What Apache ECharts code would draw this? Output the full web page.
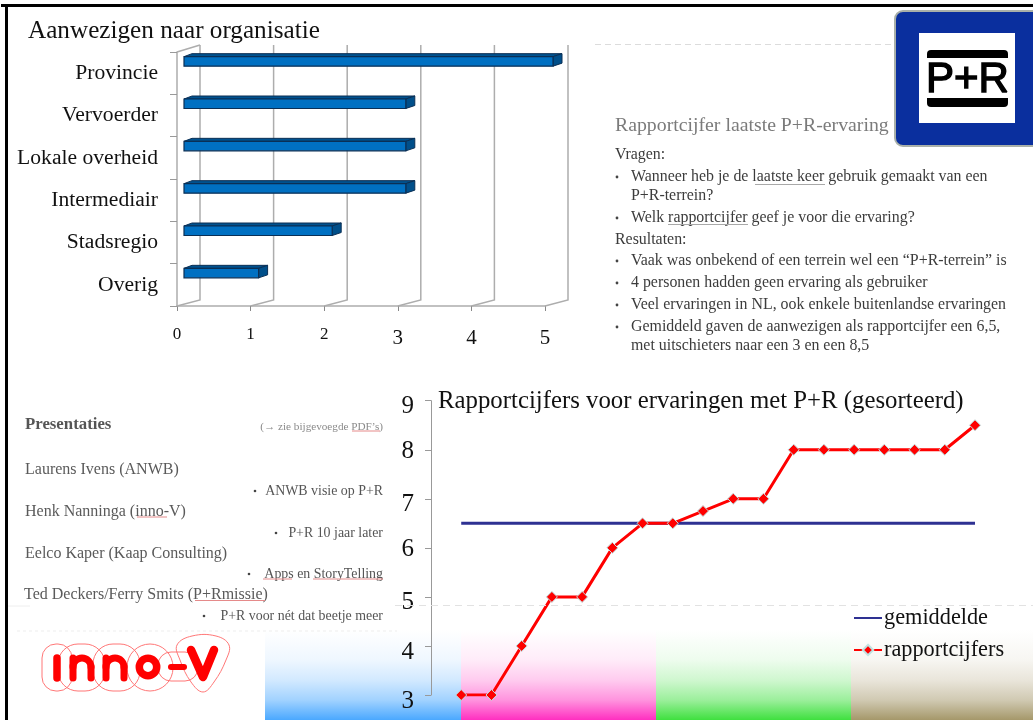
<!DOCTYPE html>
<html>
<head>
<meta charset="utf-8">
<style>html,body{margin:0;padding:0;background:#fff}#chart{width:1033px;height:720px}</style>
<script src="https://cdn.jsdelivr.net/npm/echarts@6/dist/echarts.min.js"></script>
</head>
<body>
<div id="chart"></div>
<script>
const serif = '"Liberation Serif", serif';

// bar chart
const organisaties = ['Provincie', 'Vervoerder', 'Lokale overheid', 'Intermediair', 'Stadsregio', 'Overig'];
const aanwezigen = [5, 3, 3, 3, 2, 1];
const wallTicks = [0, 1, 2, 3, 4, 5];

// line chart
const rapportcijfers = [3, 3, 4, 5, 5, 6, 6.5, 6.5, 6.75, 7, 7, 8, 8, 8, 8, 8, 8, 8.5];
const gemiddelde = [6.5, 6.5, 6.5, 6.5, 6.5, 6.5, 6.5, 6.5, 6.5, 6.5, 6.5, 6.5, 6.5, 6.5, 6.5, 6.5, 6.5, 6.5];

// slide texts
const blockTitle = 'Rapportcijfer laatste P+R-ervaring';
const blockLines = [
    'Vragen:',
    'Wanneer heb je de laatste keer gebruik gemaakt van een',
    'P+R-terrein?',
    'Welk rapportcijfer geef je voor die ervaring?',
    'Resultaten:',
    'Vaak was onbekend of een terrein wel een \u201cP+R-terrein\u201d is',
    '4 personen hadden geen ervaring als gebruiker',
    'Veel ervaringen in NL, ook enkele buitenlandse ervaringen',
    'Gemiddeld gaven de aanwezigen als rapportcijfer een 6,5,',
    'met uitschieters naar een 3 en een 8,5'
];
const sprekers = ['Laurens Ivens (ANWB)', 'Henk Nanninga (inno-V)', 'Eelco Kaper (Kaap Consulting)', 'Ted Deckers/Ferry Smits (P+Rmissie)'];
const onderwerpen = ['ANWB visie op P+R', 'P+R 10 jaar later', 'Apps en StoryTelling', 'P+R voor n\u00e9t dat beetje meer'];

function text(x, y, str, size, color, extra) {
    return {
        type: 'text', x: x, y: y, z: 20,
        style: Object.assign({ text: str, font: size + 'px ' + serif, fill: color, textVerticalAlign: 'middle' }, extra || {})
    };
}
function line(x1, y1, x2, y2, color, width, dash) {
    return {
        type: 'line', z: 20, silent: true,
        shape: { x1: x1, y1: y1, x2: x2, y2: y2 },
        style: { stroke: color, lineWidth: width, lineDash: dash || null }
    };
}
function dot(x, y, r, color) {
    return { type: 'circle', z: 20, shape: { cx: x, cy: y, r: r }, style: { fill: color } };
}
function fade(x, w, color) {
    const tint = t => echarts.color.lerp(t, ['#ffffff', color]);
    return {
        type: 'rect', z: -10, silent: true,
        shape: { x: x, y: 630, width: w, height: 90 },
        style: {
            fill: new echarts.graphic.LinearGradient(0, 0, 0, 1, [
                { offset: 0, color: '#ffffff' },
                { offset: 0.33, color: tint(0.09) },
                { offset: 0.56, color: tint(0.25) },
                { offset: 0.78, color: tint(0.52) },
                { offset: 1, color: color }
            ])
        }
    };
}
function bubble(x, y, w, h, r) {
    return {
        type: 'rect', z: 21, silent: true,
        shape: { x: x, y: y, width: w, height: h, r: r },
        style: { fill: 'none', stroke: '#f77', lineWidth: 1 }
    };
}
const logoStroke = w => ({ fill: 'none', stroke: '#ff0000', lineWidth: w, lineCap: 'round', lineJoin: 'round' });
function logoStem(x, y1, y2, w) {
    return { type: 'line', z: 22, silent: true, shape: { x1: x, y1: y1, x2: x, y2: y2 }, style: logoStroke(w) };
}
function logoN(x) {
    return [
        logoStem(x, 658, 678, 7),
        logoStem(x + 18, 667, 678, 7),
        { type: 'arc', z: 22, silent: true, shape: { cx: x + 9, cy: 667, r: 9, startAngle: Math.PI, endAngle: Math.PI * 2, clockwise: true }, style: logoStroke(7) }
    ];
}

const graphics = [];
// gradient strip along the bottom
graphics.push(fade(265, 196, '#4aa8ff'), fade(461, 195, '#ff2fc0'), fade(656, 195, '#3fe03f'), fade(851, 182, '#a5986a'));
// frame
graphics.push(line(1, 5.5, 1033, 5.5, '#000', 3), line(6.5, 5, 6.5, 720, '#000', 3));
// dashed slide seams
graphics.push(
    line(595, 44.5, 894, 44.5, '#dcdcdc', 1, [6, 4]),
    line(395, 605.5, 1033, 605.5, '#e2e2e2', 1, [7, 5]),
    line(8, 606, 30, 606, '#eeeeee', 1),
    line(17, 631, 397, 631, '#eeeeee', 1, [3, 3])
);

// right text block
graphics.push(text(615, 126, blockTitle, 19.8, '#7b7b7b'));
const blockY = [155, 177, 196, 218, 240, 261, 283, 305, 327, 346];
const blockX = [615, 631, 631, 631, 615, 631, 631, 631, 631, 631];
const blockBullets = [1, 3, 5, 6, 7, 8];
blockLines.forEach((s, i) => graphics.push(text(blockX[i], blockY[i], s, 15.9, '#3c3c3c')));
blockBullets.forEach(i => graphics.push(dot(617, blockY[i], 1.4, '#444')));
graphics.push(line(755, 184.5, 825, 184.5, '#a8a8a8', 1), line(668, 224.5, 748, 224.5, '#a8a8a8', 1));

// left text block
graphics.push(text(25, 425, 'Presentaties', 16.8, '#555', { font: 'bold 16.8px ' + serif }));
graphics.push(text(383, 427, '(\u2192 zie bijgevoegde PDF\u2019s)', 11.2, '#8a8a8a', { textAlign: 'right' }));
const sprekerY = [470, 512, 554, 595];
const onderwerpY = [491, 533, 574, 616];
sprekers.forEach((s, i) => graphics.push(text(i == 3 ? 24 : 25, sprekerY[i], s, 16, '#5a5a5a')));
onderwerpen.forEach((s, i) => graphics.push(text(383, onderwerpY[i], s, 13.9, '#555', { textAlign: 'right' })));
const bulletX = [255, 276, 249, 204];
bulletX.forEach((x, i) => graphics.push(dot(x, onderwerpY[i], 1.3, '#444')));
graphics.push(
    line(352, 431, 380, 431, '#e58a8a', 1),
    line(137, 517, 167, 517, '#e58a8a', 1),
    line(263, 579, 292, 579, '#e58a8a', 1),
    line(313, 579, 383, 579, '#e58a8a', 1),
    line(195, 600.5, 265, 600.5, '#e58a8a', 1)
);

// P+R sign
graphics.push(
    { type: 'rect', z: 30, shape: { x: 895, y: 11, width: 145, height: 135, r: 8 }, style: { fill: '#0a2f9e', stroke: '#a9b0a9', lineWidth: 2 } },
    { type: 'rect', z: 31, shape: { x: 919, y: 33, width: 96, height: 90 }, style: { fill: '#fff' } },
    { type: 'rect', z: 32, shape: { x: 927, y: 50, width: 81, height: 8, r: [4, 4, 0, 0] }, style: { fill: '#000' } },
    { type: 'rect', z: 32, shape: { x: 927, y: 98, width: 81, height: 9, r: [0, 0, 4, 4] }, style: { fill: '#000' } },
    {
        type: 'text', z: 32, x: 967.5, y: 80,
        style: { text: 'P+R', font: '42px "Liberation Sans", sans-serif', fill: '#000', stroke: '#000', lineWidth: 1.4, textAlign: 'center', textVerticalAlign: 'middle' }
    }
);

// inno-V logo
graphics.push(
    bubble(42, 644, 30, 47, 14), bubble(58, 644, 47, 47, 20), bubble(93, 644, 47, 47, 20),
    bubble(127, 644, 46, 47, 23), bubble(158, 652, 40, 29, 13),
    {
        type: 'polygon', z: 21, silent: true,
        shape: { points: [[192, 636], [216, 636], [229, 645], [226, 660], [214, 682], [203, 692], [191, 682], [180, 660], [177, 645]], smooth: 0.4 },
        style: { fill: 'none', stroke: '#f77', lineWidth: 1 }
    },
    logoStem(57, 658, 678, 7.5),
    ...logoN(73),
    ...logoN(106),
    { type: 'circle', z: 22, silent: true, shape: { cx: 148, cy: 667, r: 8.7 }, style: logoStroke(7.5) },
    { type: 'line', z: 22, silent: true, shape: { x1: 171, y1: 667, x2: 184, y2: 667 }, style: logoStroke(6) },
    { type: 'polyline', z: 22, silent: true, shape: { points: [[191, 650], [203, 677], [214, 650]] }, style: logoStroke(8.5) }
);

function renderWall(params, api) {
    const sys = params.coordSys;
    const x = api.coord([api.value(0), 0])[0];
    const floor = sys.y + sys.height;
    const pts = [[x, floor], [x + 23, floor - 6], [x + 23, sys.y - 7]];
    const kids = [{ type: 'polyline', shape: { points: pts }, style: { fill: 'none', stroke: '#adadad', lineWidth: 1.5 } }];
    if (api.value(0) == 0) {
        kids.push({ type: 'line', shape: { x1: x, y1: sys.y, x2: x + 23, y2: sys.y - 7 }, style: { stroke: '#adadad', lineWidth: 1.5 } });
    }
    return { type: 'group', children: kids };
}

function renderBar(params, api) {
    const start = api.coord([0, api.value(1)]);
    const end = api.coord([api.value(0), api.value(1)]);
    const x0 = start[0] + 7, x1 = end[0] + 8;
    const y0 = start[1] - 16.5, y1 = y0 + 9.5;
    const edge = '#0a2f55';
    return {
        type: 'group',
        children: [
            { type: 'polygon', shape: { points: [[x0, y0], [x0 + 8, y0 - 3], [x1 + 9, y0 - 3], [x1, y0]] }, style: { fill: '#00528f', stroke: edge, lineWidth: 1 } },
            { type: 'polygon', shape: { points: [[x1, y0], [x1 + 9, y0 - 3], [x1 + 9, y1 - 3], [x1, y1]] }, style: { fill: '#004f8a', stroke: edge, lineWidth: 1 } },
            { type: 'rect', shape: { x: x0, y: y0, width: x1 - x0, height: y1 - y0 }, style: { fill: '#0070c2', stroke: edge, lineWidth: 1.2 } }
        ]
    };
}

const myChart = echarts.init(document.getElementById('chart'), null, { renderer: 'canvas' });
myChart.setOption({
    animation: false,
    backgroundColor: '#fff',
    title: [
        { text: 'Aanwezigen naar organisatie', left: 28, top: 19, padding: 0, textStyle: { fontFamily: serif, fontSize: 25.2, fontWeight: 'normal', color: '#111' } },
        { text: 'Rapportcijfers voor ervaringen met P+R (gesorteerd)', left: 438, top: 389, padding: 0, textStyle: { fontFamily: serif, fontSize: 24.8, fontWeight: 'normal', color: '#111' } }
    ],
    grid: [
        { left: 177, top: 52, width: 368, height: 254 },
        { left: 431, top: 400.7, right: 58, height: 294.3 }
    ],
    xAxis: [
        {
            gridIndex: 0, type: 'value', min: 0, max: 5, interval: 1,
            splitLine: { show: false },
            axisLine: { show: true, lineStyle: { color: '#adadad', width: 1.5 } },
            axisTick: { show: true, length: 5, lineStyle: { color: '#888' } },
            axisLabel: {
                margin: 20,
                formatter: v => (v < 3 ? '{low|' + v + '}' : '{high|' + v + '}'),
                rich: {
                    low: { fontFamily: serif, fontSize: 17, color: '#111' },
                    high: { fontFamily: serif, fontSize: 21, color: '#111', padding: [2, 0, 0, 0] }
                }
            }
        },
        { gridIndex: 1, type: 'value', min: 0, max: 18, show: false }
    ],
    yAxis: [
        {
            gridIndex: 0, type: 'category', inverse: true, data: organisaties,
            axisLine: { show: true, lineStyle: { color: '#adadad', width: 1.5 } },
            axisTick: { show: true, length: 7, lineStyle: { color: '#999' } },
            axisLabel: { margin: 19, fontFamily: serif, fontSize: 21.6, color: '#111', padding: [5, 0, 0, 0] }
        },
        {
            gridIndex: 1, type: 'value', min: 3, max: 9, interval: 1,
            splitLine: { show: false },
            axisLine: { show: true, lineStyle: { color: '#999', width: 1 } },
            axisTick: { show: true, length: 6, lineStyle: { color: '#999' } },
            axisLabel: {
                margin: 17,
                formatter: v => ((v == 6 || v == 8) ? '{up|' + v + '}' : '{dn|' + v + '}'),
                rich: {
                    up: { fontFamily: serif, fontSize: 25, color: '#111', padding: [3, 0, 0, 0] },
                    dn: { fontFamily: serif, fontSize: 25, color: '#111', padding: [12, 0, 0, 0] }
                }
            }
        }
    ],
    legend: {
        orient: 'vertical', left: 853, top: 607, itemWidth: 28, itemHeight: 13, itemGap: 10, padding: 0,
        data: [{ name: 'gemiddelde', itemStyle: { opacity: 0 } }, { name: 'rapportcijfers' }],
        textStyle: { fontFamily: serif, fontSize: 22.3, color: '#111', padding: [0, 0, 0, -3] }
    },
    series: [
        {
            name: 'wanden', type: 'custom', xAxisIndex: 0, yAxisIndex: 0, silent: true, clip: false, z: 1,
            renderItem: renderWall,
            data: wallTicks.map(v => [v, 0])
        },
        {
            name: 'aanwezigen', type: 'custom', xAxisIndex: 0, yAxisIndex: 0, clip: false, z: 3,
            renderItem: renderBar,
            encode: { x: 0, y: 1 },
            data: aanwezigen.map((v, i) => [v, i])
        },
        {
            name: 'gemiddelde', type: 'line', xAxisIndex: 1, yAxisIndex: 1, z: 3,
            showSymbol: false, symbol: 'none',
            lineStyle: { color: '#2e3192', width: 3 }, itemStyle: { color: '#2e3192' },
            data: gemiddelde.map((v, i) => [i + 1, v])
        },
        {
            name: 'rapportcijfers', type: 'line', xAxisIndex: 1, yAxisIndex: 1, z: 4,
            symbol: 'diamond', symbolSize: 11,
            lineStyle: { color: '#ff0000', width: 3 },
            itemStyle: { color: '#ff0000', borderColor: '#bfe3e3', borderWidth: 1 },
            data: rapportcijfers.map((v, i) => [i + 1, v])
        }
    ],
    graphic: { elements: graphics }
});
</script>
</body>
</html>
